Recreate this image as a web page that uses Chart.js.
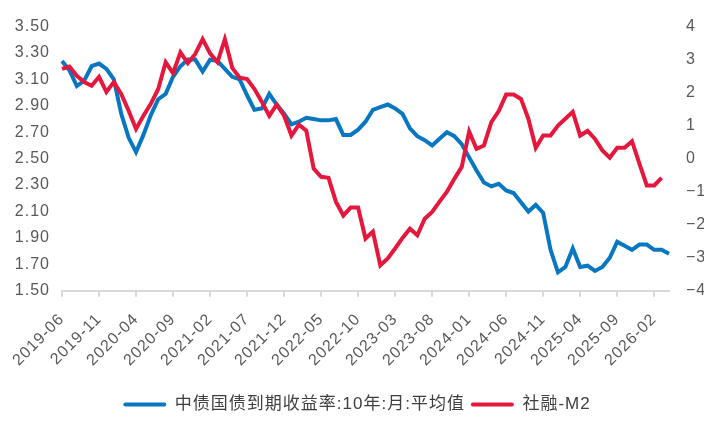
<!DOCTYPE html>
<html>
<head>
<meta charset="utf-8">
<script src="https://cdn.jsdelivr.net/npm/chart.js@4"></script>
<style>
  body { margin: 0; background: #fff; }
  canvas { display: block; }
</style>
</head>
<body>
<canvas id="chart" width="720" height="432"></canvas>
<script>
// monthly, 2019-06 .. 2026-04
const months = [];
for (let y = 2019, m = 6; months.length < 83; m++) {
  if (m > 12) { m = 1; y++; }
  months.push(y + '-' + String(m).padStart(2, '0'));
}

// left axis: 10Y CGB yield, monthly average (%)
const yieldValues = [
  3.24, 3.17, 3.05, 3.09, 3.20, 3.22, 3.18, 3.10, 2.84, 2.66,
  2.55, 2.68, 2.83, 2.95, 2.99, 3.12, 3.20, 3.25, 3.25, 3.16,
  3.25, 3.24, 3.18, 3.12, 3.10, 2.98, 2.87, 2.88, 2.99, 2.91,
  2.84, 2.76, 2.78, 2.81, 2.80, 2.79, 2.79, 2.80, 2.68, 2.68,
  2.72, 2.78, 2.87, 2.89, 2.91, 2.88, 2.84, 2.73, 2.67, 2.64,
  2.60, 2.65, 2.70, 2.67, 2.61, 2.51, 2.41, 2.32, 2.29, 2.31,
  2.26, 2.24, 2.17, 2.10, 2.15, 2.09, 1.81, 1.64, 1.68, 1.82,
  1.68, 1.69, 1.65, 1.68, 1.75, 1.87, 1.84, 1.81, 1.85, 1.85,
  1.81, 1.81, 1.78
];

// right axis: social financing growth minus M2 growth (pct pt)
const sfM2Values = [
  2.72, 2.79, 2.51, 2.32, 2.21, 2.48, 2.02, 2.32, 1.96, 1.45,
  0.90, 1.30, 1.66, 2.11, 2.92, 2.59, 3.22, 2.89, 3.17, 3.62,
  3.19, 2.92, 3.62, 2.75, 2.45, 2.41, 2.11, 1.72, 1.30, 1.64,
  1.30, 0.70, 1.03, 0.85, -0.30, -0.55, -0.58, -1.30, -1.72, -1.48,
  -1.48, -2.42, -2.21, -3.23, -3.02, -2.72, -2.40, -2.12, -2.32, -1.82,
  -1.61, -1.30, -1.00, -0.61, -0.25, 0.82, 0.30, 0.40, 1.11, 1.44,
  1.94, 1.94, 1.81, 1.21, 0.33, 0.70, 0.70, 1.00, 1.21, 1.42,
  0.70, 0.84, 0.60, 0.25, 0.03, 0.33, 0.33, 0.53, -0.15, -0.81,
  -0.81, -0.58, null
];

const BLUE = '#0877c1';
const RED = '#e6173c';
const FONT = '"Liberation Sans", "Noto Sans CJK SC", sans-serif';

// the source uses slightly spaced-out text
const spacing = {
  id: 'spacing',
  beforeLayout(c) { c.ctx.letterSpacing = '1px'; },
  beforeDraw(c) { c.ctx.letterSpacing = '1px'; }
};

new Chart(document.getElementById('chart'), {
  type: 'line',
  data: {
    labels: months,
    datasets: [
      {
        label: '中债国债到期收益率:10年:月:平均值',
        data: yieldValues,
        yAxisID: 'y',
        borderColor: BLUE,
        backgroundColor: BLUE,
        borderWidth: 4,
        pointRadius: 0,
        order: 1
      },
      {
        label: '社融-M2',
        data: sfM2Values,
        yAxisID: 'y1',
        borderColor: RED,
        backgroundColor: RED,
        borderWidth: 4,
        pointRadius: 0,
        order: 0
      }
    ]
  },
  options: {
    responsive: false,
    animation: false,
    layout: { padding: { left: 10, right: 16, top: 14, bottom: 9 } },
    plugins: {
      tooltip: { enabled: false },
      legend: {
        position: 'bottom',
        title: { display: true, text: '', padding: 3, font: { size: 1 } },
        labels: {
          boxWidth: 43,
          boxHeight: 4,
          useBorderRadius: true,
          borderRadius: 2,
          padding: 6,
          color: '#404040',
          font: { size: 17, family: FONT },
          sort: (a, b) => a.datasetIndex - b.datasetIndex,
          generateLabels: c => Chart.defaults.plugins.legend.labels.generateLabels(c)
            .map(l => ({ ...l, lineWidth: 0 }))
        }
      }
    },
    scales: {
      x: {
        offset: false,
        grid: { drawOnChartArea: false, color: '#d9d9d9', lineWidth: 2, tickLength: 6 },
        border: { color: '#d9d9d9', width: 2 },
        ticks: {
          autoSkip: false,
          maxRotation: 45,
          minRotation: 45,
          padding: 13,
          color: '#595959',
          font: { size: 16, family: FONT },
          callback(v, i) { return i % 5 === 0 ? this.getLabelForValue(v) : null; }
        }
      },
      y: {
        position: 'left',
        min: 1.5,
        max: 3.5,
        grid: { display: false, drawTicks: false },
        border: { display: false },
        afterFit: s => { s.width = 52; },
        ticks: {
          stepSize: 0.2,
          padding: 12,
          color: '#595959',
          font: { size: 16, family: FONT },
          callback: v => v.toFixed(2)
        }
      },
      y1: {
        position: 'right',
        min: -4,
        max: 4,
        grid: { display: false, drawTicks: false },
        border: { display: false },
        afterFit: s => { s.width = 35; },
        ticks: {
          stepSize: 1,
          padding: 17,
          color: '#595959',
          font: { size: 16, family: FONT },
          callback: v => (v < 0 ? '\u2212' + Math.abs(v) : String(v))
        }
      }
    }
  },
  plugins: [spacing]
});
</script>
</body>
</html>
